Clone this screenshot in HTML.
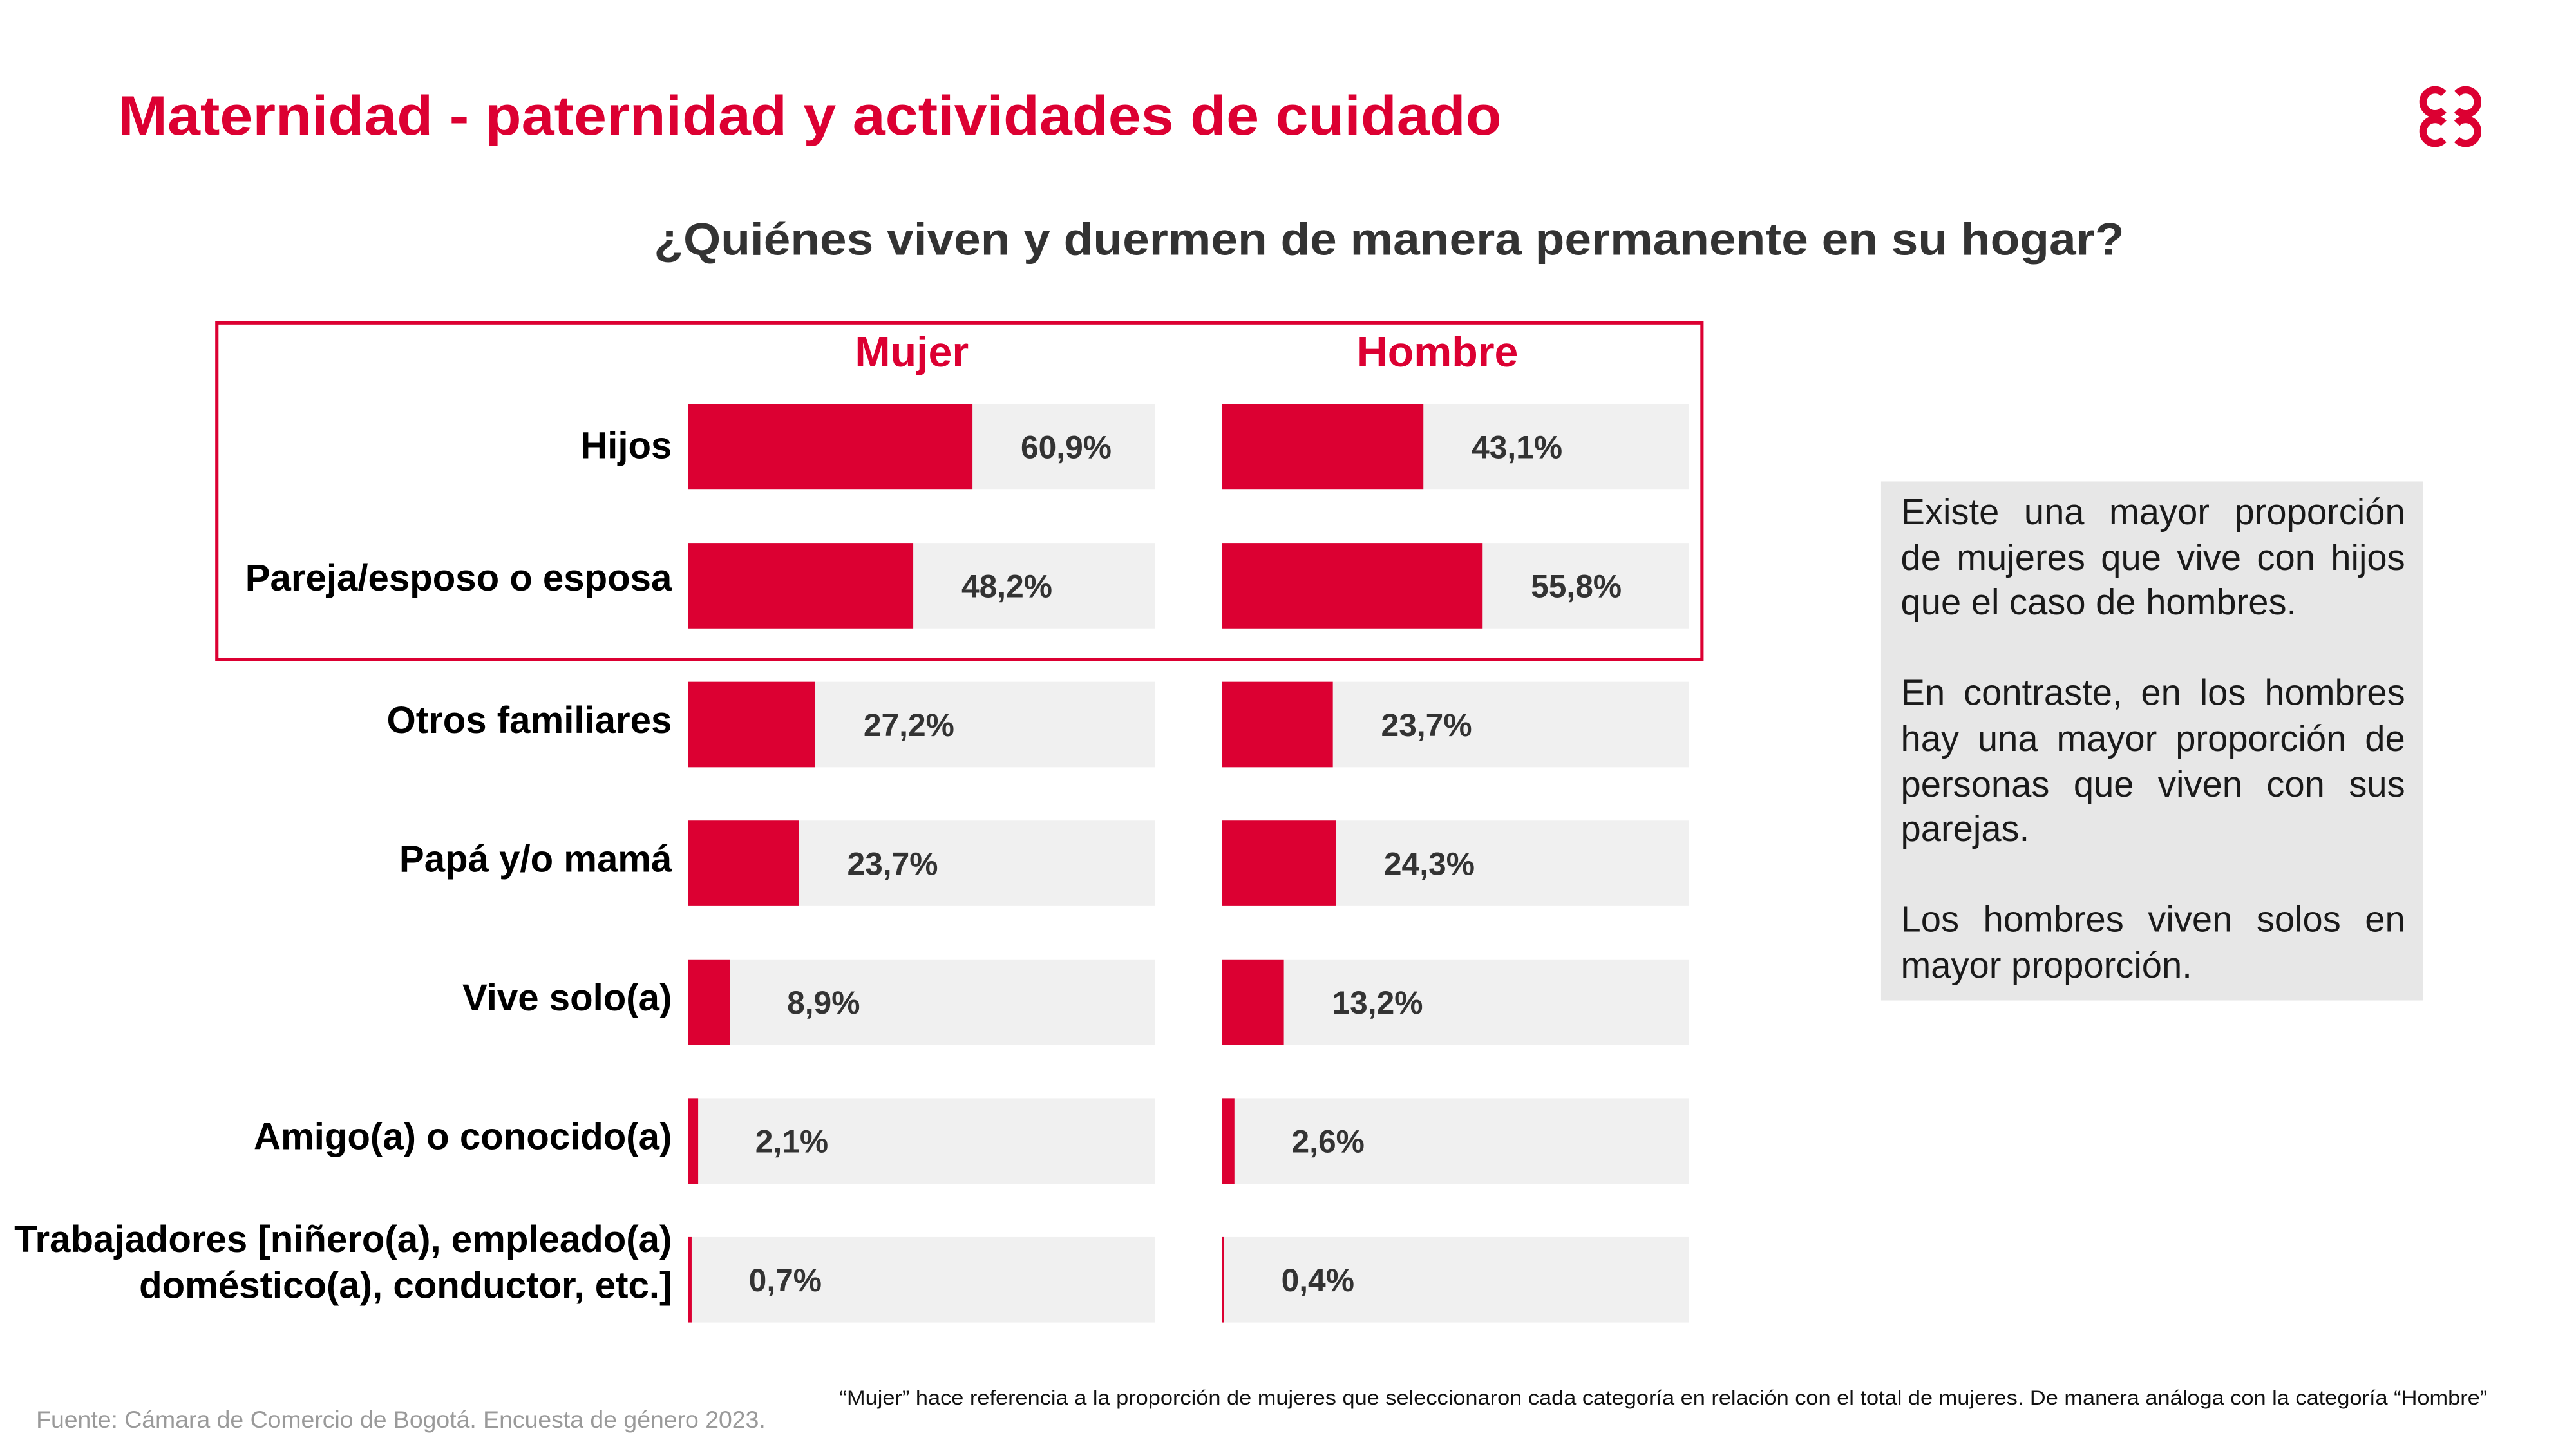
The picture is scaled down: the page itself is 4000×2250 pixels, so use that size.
<!DOCTYPE html>
<html><head><meta charset="utf-8">
<style>
html,body{margin:0;padding:0;background:#fff;}
#stage{position:relative;width:1568px;height:882px;transform:scale(2.55102);transform-origin:0 0;overflow:hidden;font-family:"Liberation Sans",sans-serif;}
#note{position:absolute;left:1145px;top:293px;width:330px;height:316px;background:#e7e7e7;box-sizing:border-box;padding:5px 11px 0 12px;font-size:22px;line-height:27.6px;color:#1a1a1a;text-align:justify;}
#note p{margin:0 0 27.6px 0;}
</style></head>
<body>
<div id="stage">
<svg id="chart" width="1568" height="882" viewBox="0 0 1568 882" style="position:absolute;left:0;top:0">
  <text x="72" y="82" font-size="34" font-weight="bold" fill="#dc0032" textLength="842" lengthAdjust="spacingAndGlyphs">Maternidad - paternidad y actividades de cuidado</text>
  <g fill="none" stroke="#dc0032" stroke-width="4.5">
    <path d="M1487.5,57 A7.3,7.3 0 1 0 1487.5,67"/>
    <path d="M1495.5,57 A7.3,7.3 0 1 1 1495.5,67"/>
    <path d="M1487.5,75 A7.3,7.3 0 1 0 1487.5,85"/>
    <path d="M1495.5,75 A7.3,7.3 0 1 1 1495.5,85"/>
  </g>
  <text x="398" y="155" font-size="27.5" font-weight="bold" fill="#333" textLength="895" lengthAdjust="spacingAndGlyphs">¿Quiénes viven y duermen de manera permanente en su hogar?</text>
  <rect x="132" y="196.5" width="904" height="205" fill="none" stroke="#dc0032" stroke-width="2"/>
  <text x="555" y="223" font-size="26" font-weight="bold" fill="#dc0032" text-anchor="middle">Mujer</text>
  <text x="875" y="223" font-size="26" font-weight="bold" fill="#dc0032" text-anchor="middle">Hombre</text>
  <g id="rows"></g>
  <text x="511" y="855" font-size="12.2" fill="#111" textLength="1003" lengthAdjust="spacingAndGlyphs">“Mujer” hace referencia a la proporción de mujeres que seleccionaron cada categoría en relación con el total de mujeres. De manera análoga con la categoría “Hombre”</text>
  <text x="22" y="869" font-size="14.5" fill="#9a9a9a" textLength="444" lengthAdjust="spacingAndGlyphs">Fuente: Cámara de Comercio de Bogotá. Encuesta de género 2023.</text>
</svg>
<div id="note">
<p>Existe una mayor proporción de mujeres que vive con hijos que el caso de hombres.</p>
<p>En contraste, en los hombres hay una mayor proporción de personas que viven con sus parejas.</p>
<p>Los hombres viven solos en mayor proporción.</p>
</div>
</div>
<script>
const categories = [["Hijos"],["Pareja/esposo o esposa"],["Otros familiares"],["Papá y/o mamá"],["Vive solo(a)"],["Amigo(a) o conocido(a)"],["Trabajadores [niñero(a), empleado(a)","doméstico(a), conductor, etc.]"]];
const mujerValues = [60.9, 48.2, 27.2, 23.7, 8.9, 2.1, 0.7];
const hombreValues = [43.1, 55.8, 23.7, 24.3, 13.2, 2.6, 0.4];
const mujerLabels = ["60,9%","48,2%","27,2%","23,7%","8,9%","2,1%","0,7%"];
const hombreLabels = ["43,1%","55,8%","23,7%","24,3%","13,2%","2,6%","0,4%"];

const NS = "http://www.w3.org/2000/svg";
const g = document.getElementById('rows');
const trackW = 284, barH = 52;
const xScale = v => v * 2.84;
const rowY = i => 246 + i * 84.5;
const panels = [{x0:419, vals:mujerValues, labs:mujerLabels, key:'mujer'},{x0:744, vals:hombreValues, labs:hombreLabels, key:'hombre'}];
function mk(tag, attrs){const e=document.createElementNS(NS,tag);for(const k in attrs)e.setAttribute(k,attrs[k]);return e;}
categories.forEach((cat, i) => {
  const y = rowY(i);
  const cy = y + barH/2;
  const lab = mk('text', {x:409, 'font-size':22.8, 'font-weight':'bold', fill:'#000', 'text-anchor':'end'});
  
  
  if (cat.length === 1) {
    lab.setAttribute('y', cy + 7 - (i === 1 ? 4 : 0) - (i >= 2 ? 2 : 0));
    lab.textContent = cat[0];
  } else {
    cat.forEach((line, j) => {
      const t = mk('tspan', {x:409, y: cy - 17 + j*28});
      t.textContent = line;
      lab.appendChild(t);
    });
  }
  g.appendChild(lab);
  panels.forEach(p => {
    const bg = mk('rect', {x:p.x0, y:y, width:trackW, height:barH, fill:'#f0f0f0'});
    
    
    g.appendChild(bg);
    const w = xScale(p.vals[i]);
    const bar = mk('rect', {x:p.x0, y:y, width:Math.max(w,1), height:barH, fill:'#dc0032'});
    
    
    g.appendChild(bar);
    const v = mk('text', {x:p.x0 + w + 57, y:cy + 7, 'font-size':19.5, 'font-weight':'bold', fill:'#333', 'text-anchor':'middle'});
    
    
    v.textContent = p.labs[i];
    g.appendChild(v);
  });
});
</script>
</body></html>
